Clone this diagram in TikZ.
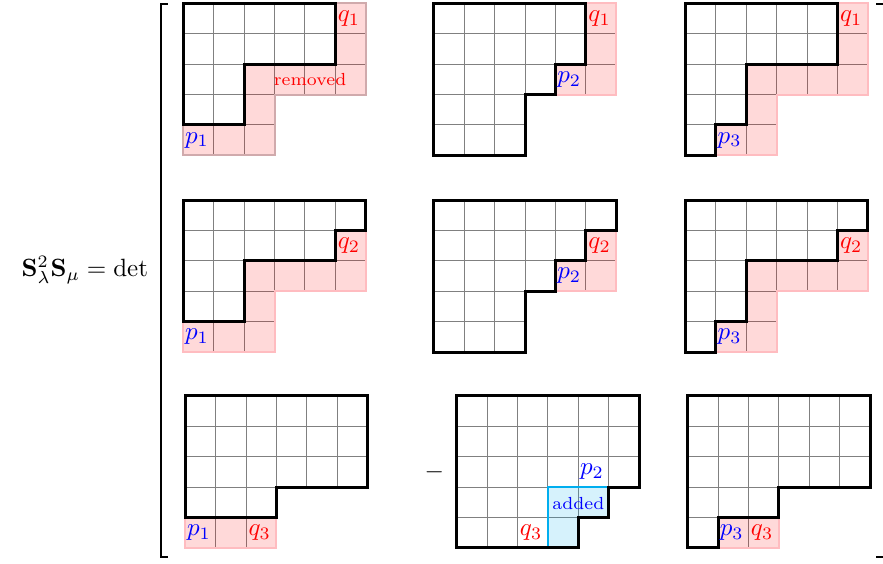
\documentclass[tikz,border=0pt]{standalone}
\usepackage{amsmath}

\definecolor{stripline}{RGB}{255,188,192}
\definecolor{stripgray}{RGB}{208,170,172}
\definecolor{addline}{RGB}{0,174,239}

\newcommand{\cellgrid}[1]{%
  \foreach \len [count=\r from 0] in {#1}
    \foreach \c in {1,...,\len}
      \draw[gridline] (\c-1,\r) rectangle (\c,\r+1);}

\begin{document}
\begin{tikzpicture}[
  x=12.16pt, y=-12.16pt,
  gridline/.style={draw=gray, line width=0.4pt},
  strip/.style={fill=red, fill opacity=0.15, draw=stripline,
                draw opacity=1, line width=0.8pt},
  removedstrip/.style={strip, draw=stripgray},
  addstrip/.style={fill=addline, fill opacity=0.16, draw=addline,
                   draw opacity=1, line width=1pt},
  edgeline/.style={draw=black, line width=1.2pt},
  plab/.style={text=blue, inner sep=0pt},
  qlab/.style={text=red, inner sep=0pt},
  note/.style={font=\scriptsize, inner sep=0pt},
  bracket/.style={draw=black, line width=0.8pt}
]
  \clip (0,0) rectangle (29.046,18.520);

  \node[anchor=base] (lhs) at (2.79,9.10) {$\mathbf{S}_\lambda^2\mathbf{S}_\mu = \det$};
  \draw[bracket] (5.526,0.132) -- (5.296,0.132) -- (5.296,18.32) -- (5.526,18.32);
  \draw[bracket] (28.82,0.132) -- (29.10,0.132) -- (29.10,18.32) -- (28.82,18.32);

  % first row: q_1
  \begin{scope}[shift={(6.03,0.11)}]
    \cellgrid{6,6,6,3,3}
    \draw[removedstrip] (5,0) -- (6,0) -- (6,3) -- (3,3) -- (3,5) -- (0,5)
      -- (0,4) -- (2,4) -- (2,2) -- (5,2) -- cycle;
    \draw[edgeline] (0,0) -- (5,0) -- (5,2) -- (2,2) -- (2,4) -- (0,4) -- cycle;
    \node[qlab] (q11) at (5.45,0.5) {$q_1$};
    \node[plab] (p11) at (0.45,4.5) {$p_1$};
    \node[note, text=red] (rm) at (4.17,2.5) {removed};
  \end{scope}

  \begin{scope}[shift={(14.276,0.11)}]
    \cellgrid{6,6,6,3,3}
    \draw[strip] (5,0) -- (6,0) -- (6,3) -- (4,3) -- (4,2) -- (5,2) -- cycle;
    \draw[edgeline] (0,0) -- (5,0) -- (5,2) -- (4,2) -- (4,3) -- (3,3)
      -- (3,5) -- (0,5) -- cycle;
    \node[qlab] (q12) at (5.45,0.5) {$q_1$};
    \node[plab] (p12) at (4.45,2.5) {$p_2$};
  \end{scope}

  \begin{scope}[shift={(22.55,0.11)}]
    \cellgrid{6,6,6,3,3}
    \draw[strip] (5,0) -- (6,0) -- (6,3) -- (3,3) -- (3,5) -- (1,5) -- (1,4)
      -- (2,4) -- (2,2) -- (5,2) -- cycle;
    \draw[edgeline] (0,0) -- (5,0) -- (5,2) -- (2,2) -- (2,4) -- (1,4)
      -- (1,5) -- (0,5) -- cycle;
    \node[qlab] (q13) at (5.45,0.5) {$q_1$};
    \node[plab] (p13) at (1.45,4.5) {$p_3$};
  \end{scope}

  % second row: q_2
  \begin{scope}[shift={(6.03,6.58)}]
    \cellgrid{6,6,6,3,3}
    \draw[strip] (5,1) -- (6,1) -- (6,3) -- (3,3) -- (3,5) -- (0,5)
      -- (0,4) -- (2,4) -- (2,2) -- (5,2) -- cycle;
    \draw[edgeline] (0,0) -- (6,0) -- (6,1) -- (5,1) -- (5,2) -- (2,2)
      -- (2,4) -- (0,4) -- cycle;
    \node[qlab] (q21) at (5.45,1.5) {$q_2$};
    \node[plab] (p21) at (0.45,4.5) {$p_1$};
  \end{scope}

  \begin{scope}[shift={(14.276,6.58)}]
    \cellgrid{6,6,6,3,3}
    \draw[strip] (5,1) -- (6,1) -- (6,3) -- (4,3) -- (4,2) -- (5,2) -- cycle;
    \draw[edgeline] (0,0) -- (6,0) -- (6,1) -- (5,1) -- (5,2) -- (4,2)
      -- (4,3) -- (3,3) -- (3,5) -- (0,5) -- cycle;
    \node[qlab] (q22) at (5.45,1.5) {$q_2$};
    \node[plab] (p22) at (4.45,2.5) {$p_2$};
  \end{scope}

  \begin{scope}[shift={(22.55,6.58)}]
    \cellgrid{6,6,6,3,3}
    \draw[strip] (5,1) -- (6,1) -- (6,3) -- (3,3) -- (3,5) -- (1,5) -- (1,4)
      -- (2,4) -- (2,2) -- (5,2) -- cycle;
    \draw[edgeline] (0,0) -- (6,0) -- (6,1) -- (5,1) -- (5,2) -- (2,2)
      -- (2,4) -- (1,4) -- (1,5) -- (0,5) -- cycle;
    \node[qlab] (q23) at (5.45,1.5) {$q_2$};
    \node[plab] (p23) at (1.45,4.5) {$p_3$};
  \end{scope}

  % third row: q_3
  \begin{scope}[shift={(6.095,13.02)}]
    \cellgrid{6,6,6,3,3}
    \draw[strip] (0,4) -- (3,4) -- (3,5) -- (0,5) -- cycle;
    \draw[edgeline] (0,0) -- (6,0) -- (6,3) -- (3,3) -- (3,4) -- (0,4) -- cycle;
    \node[qlab] (q31) at (2.45,4.5) {$q_3$};
    \node[plab] (p31) at (0.45,4.5) {$p_1$};
  \end{scope}

  \node (minus) at (14.29,15.52) {$-$};
  \begin{scope}[shift={(15.023,13.02)}]
    \cellgrid{6,6,6,5,4}
    \draw[addstrip] (3,3) -- (5,3) -- (5,4) -- (4,4) -- (4,5) -- (3,5) -- cycle;
    \draw[edgeline] (0,0) -- (6,0) -- (6,3) -- (5,3) -- (5,4) -- (4,4)
      -- (4,5) -- (0,5) -- cycle;
    \node[qlab] (q32) at (2.45,4.5) {$q_3$};
    \node[plab] (p32) at (4.45,2.5) {$p_2$};
    \node[note, text=blue] (ad) at (4.0,3.55) {added};
  \end{scope}

  \begin{scope}[shift={(22.62,13.02)}]
    \cellgrid{6,6,6,3,3}
    \draw[strip] (1,4) -- (3,4) -- (3,5) -- (1,5) -- cycle;
    \draw[edgeline] (0,0) -- (6,0) -- (6,3) -- (3,3) -- (3,4) -- (1,4)
      -- (1,5) -- (0,5) -- cycle;
    \node[qlab] (q33) at (2.45,4.5) {$q_3$};
    \node[plab] (p33) at (1.45,4.5) {$p_3$};
  \end{scope}
\end{tikzpicture}
\end{document}
